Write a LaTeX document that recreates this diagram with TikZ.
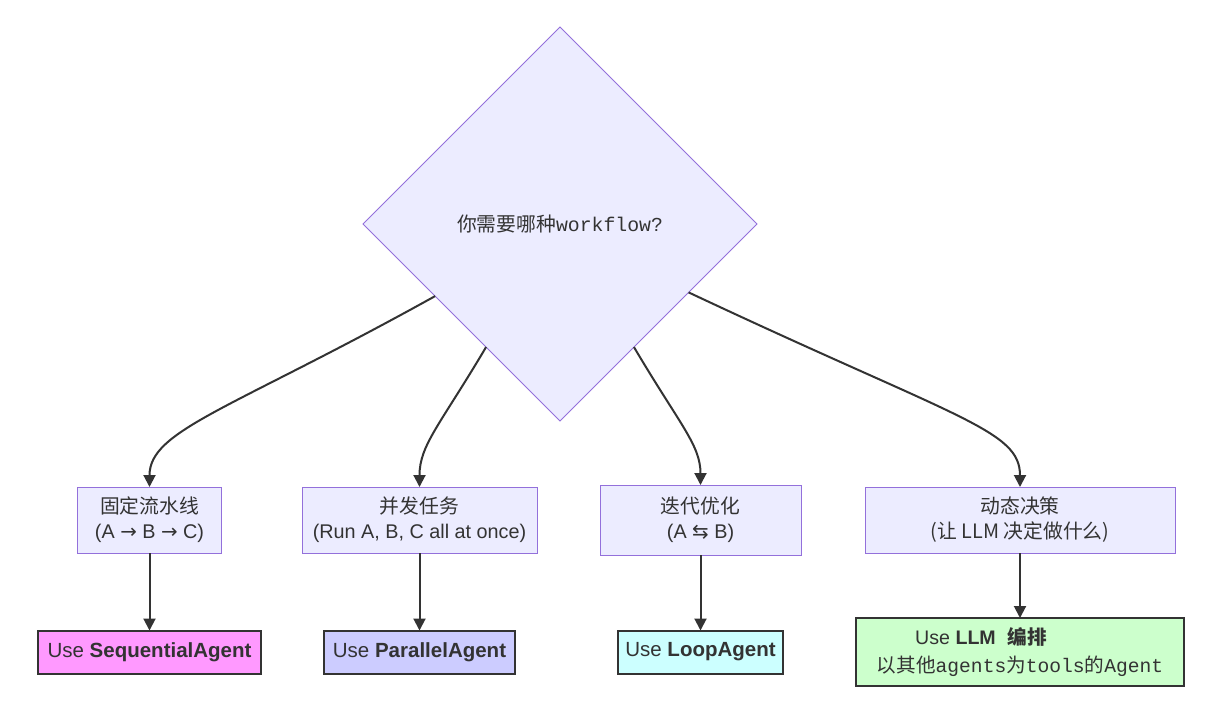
\documentclass[tikz,border=0pt]{standalone}
\usepackage{fontspec}
\setmainfont{Liberation Sans}
\newfontfamily\cjk{Noto Sans CJK SC}
\newfontfamily\mono{Liberation Mono}
\newfontfamily\sym{DejaVu Sans}
\usetikzlibrary{shapes.geometric,arrows.meta}
\definecolor{nodefill}{HTML}{ECECFF}
\definecolor{nodeline}{HTML}{9370DB}
\definecolor{ink}{HTML}{333333}
\definecolor{pinkf}{HTML}{FF99FF}
\definecolor{bluef}{HTML}{CCCCFF}
\definecolor{cyanf}{HTML}{CCFFFF}
\definecolor{greenf}{HTML}{CCFFCC}
\begin{document}
\begin{tikzpicture}[x=1pt,y=-1pt,
  every node/.style={text=ink, font=\fontsize{19.8}{25}\selectfont},
  decision/.style={shape=diamond, draw=nodeline, fill=nodefill, line width=1pt, inner sep=0pt, outer sep=0pt, minimum width=394pt, minimum height=394pt},
  choice/.style={draw=nodeline, fill=nodefill, line width=1pt, inner sep=0pt, outer sep=0pt, align=center, minimum height=66pt},
  result/.style={draw=ink, line width=2pt, inner sep=0pt, outer sep=0pt, align=center, minimum height=43pt, font=\fontsize{20.5}{28}\selectfont},
  link/.style={draw=ink, line width=2pt, -{Triangle[length=12pt,width=12pt]}}
]
\useasboundingbox (0,0) rectangle (1224,724);
\fill[white] (0,0) rectangle (1224,724);

\node[decision] (d) at (560,224) {{\cjk 你需要哪种}{\mono workflow?}};

\node[choice, minimum width=144pt] (a) at (149.5,520) {{\cjk 固定流水线}\\(A {\sym →} B {\sym →} C)};
\node[choice, minimum width=235pt] (b) at (419.5,520) {{\cjk 并发任务}\\(Run A, B, C all at once)};
\node[choice, minimum width=201pt, minimum height=70pt] (c) at (700.5,520) {{\cjk 迭代优化}\\(A {\sym ⇆} B)};
\node[choice, minimum width=310pt] (e) at (1020,520) {{\cjk 动态决策}\\{\cjk (让 LLM 决定做什么)}};

\node[result, fill=pinkf, minimum width=223pt] (ra) at (149.5,652) {Use \textbf{SequentialAgent}};
\node[result, fill=bluef, minimum width=191pt] (rb) at (419.5,652) {Use \textbf{ParallelAgent}};
\node[result, fill=cyanf, minimum width=165pt] (rc) at (700.5,652) {Use \textbf{LoopAgent}};
\node[result, fill=greenf, minimum width=328pt, minimum height=68pt, font=\fontsize{19.6}{28}\selectfont] (re) at (1020,652) {Use \textbf{LLM}\hspace{0.6em}{\cjk\bfseries 编排}\hspace{78pt}\mbox{}\\{\cjk 以其他}{\mono agents}{\cjk 为}{\mono tools}{\cjk 的}{\mono Agent}};

\path[link] (d.210) .. controls (230,410) and (149.5,430) .. (a.north);
\path[link] (d.239) .. controls (440,425) and (419.5,445) .. (b.north);
\path[link] (d.301.7) .. controls (680,425) and (700.5,445) .. (c.north);
\path[link] (d.332.7) .. controls (960,420) and (1020,430) .. (e.north);

\path[link] (a.south) -- (ra.north);
\path[link] (b.south) -- (rb.north);
\path[link] (c.south) -- (rc.north);
\path[link] (e.south) -- (re.north);
\end{tikzpicture}
\end{document}
